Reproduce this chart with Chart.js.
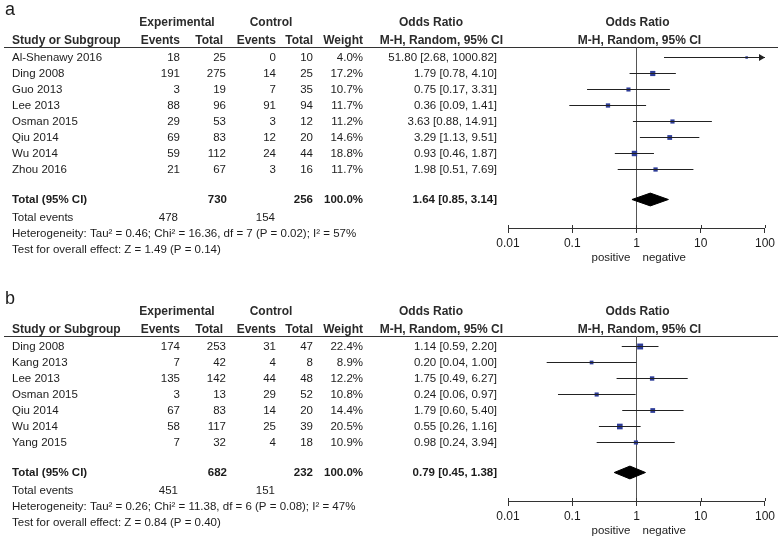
<!DOCTYPE html>
<html><head><meta charset="utf-8">
<script src="https://cdn.jsdelivr.net/npm/chart.js@4"></script>
<style>
html,body{margin:0;padding:0;background:#fff;width:778px;height:539px;overflow:hidden}
.panel{position:absolute;left:0;width:778px}
canvas{display:block}
</style></head><body>
<div class="panel" style="top:0;height:270px"><canvas id="ca" width="778" height="270"></canvas></div>
<div class="panel" style="top:289px;height:250px"><canvas id="cb" width="778" height="250"></canvas></div>
<script>
// ---------- shared axis ----------
const tickValues = [0.01, 0.1, 1, 10, 100];
const tickLabels = ["0.01", "0.1", "1", "10", "100"];

// ---------- panel a ----------
const studiesA   = ["Al-Shenawy 2016","Ding 2008","Guo 2013","Lee 2013","Osman 2015","Qiu 2014","Wu 2014","Zhou 2016"];
const expEventsA = [18, 191, 3, 88, 29, 69, 59, 21];
const expTotalA  = [25, 275, 19, 96, 53, 83, 112, 67];
const ctlEventsA = [0, 14, 7, 91, 3, 12, 24, 3];
const ctlTotalA  = [10, 25, 35, 94, 12, 20, 44, 16];
const weightA    = [4.0, 17.2, 10.7, 11.7, 11.2, 14.6, 18.8, 11.7];
const orA        = [51.80, 1.79, 0.75, 0.36, 3.63, 3.29, 0.93, 1.98];
const loA        = [2.68, 0.78, 0.17, 0.09, 0.88, 1.13, 0.46, 0.51];
const hiA        = [1000.82, 4.10, 3.31, 1.41, 14.91, 9.51, 1.87, 7.69];
const pooledA    = [1.64, 0.85, 3.14];
const totalsA    = [730, 256];
const totEventsA = [478, 154];
const hetA  = "Heterogeneity: Tau\u00b2 = 0.46; Chi\u00b2 = 16.36, df = 7 (P = 0.02); I\u00b2 = 57%";
const testA = "Test for overall effect: Z = 1.49 (P = 0.14)";

// ---------- panel b ----------
const studiesB   = ["Ding 2008","Kang 2013","Lee 2013","Osman 2015","Qiu 2014","Wu 2014","Yang 2015"];
const expEventsB = [174, 7, 135, 3, 67, 58, 7];
const expTotalB  = [253, 42, 142, 13, 83, 117, 32];
const ctlEventsB = [31, 4, 44, 29, 14, 25, 4];
const ctlTotalB  = [47, 8, 48, 52, 20, 39, 18];
const weightB    = [22.4, 8.9, 12.2, 10.8, 14.4, 20.5, 10.9];
const orB        = [1.14, 0.20, 1.75, 0.24, 1.79, 0.55, 0.98];
const loB        = [0.59, 0.04, 0.49, 0.06, 0.60, 0.26, 0.24];
const hiB        = [2.20, 1.00, 6.27, 0.97, 5.40, 1.16, 3.94];
const pooledB    = [0.79, 0.45, 1.38];
const totalsB    = [682, 232];
const totEventsB = [451, 151];
const hetB  = "Heterogeneity: Tau\u00b2 = 0.26; Chi\u00b2 = 11.38, df = 6 (P = 0.08); I\u00b2 = 47%";
const testB = "Test for overall effect: Z = 0.84 (P = 0.40)";

const FONT = '"Liberation Sans", Arial, Helvetica, sans-serif';
const TXT = '#1c1c1c';

function fmtCI(o, l, h) { return o.toFixed(2) + ' [' + l.toFixed(2) + ', ' + h.toFixed(2) + ']'; }

function makePanel(id, p) {
  const n = p.studies.length;
  const totalRow = n + 0.875;
  const datasets = [];
  p.studies.forEach((s, i) => {
    datasets.push({
      data: [{x: p.lo[i], y: i}, {x: p.hi[i], y: i}],
      borderColor: '#222', borderWidth: 1, pointRadius: 0, fill: false
    });
  });
  datasets.push({
    data: p.or.map((v, i) => ({x: v, y: i})),
    showLine: false, pointStyle: 'rect',
    pointRadius: p.weight.map(w => 1.25 * Math.sqrt(w) / Math.SQRT2),
    pointBackgroundColor: '#2d3c98', pointBorderWidth: 0, pointBorderColor: '#2d3c98'
  });
  const [est, plo, phi] = p.pooled;
  datasets.push({
    data: [{x: plo, y: totalRow}, {x: est, y: totalRow - 0.4}, {x: phi, y: totalRow},
           {x: est, y: totalRow + 0.4}, {x: plo, y: totalRow}],
    borderColor: '#000', backgroundColor: '#000', borderWidth: 1, pointRadius: 0,
    fill: 'shape', tension: 0
  });

  const plugin = {
    id: 'forest_' + id,
    beforeDatasetsDraw(chart) {
      const {ctx, chartArea: a, scales: {x}} = chart;
      ctx.save();
      ctx.strokeStyle = '#333'; ctx.lineWidth = 1;
      ctx.beginPath(); ctx.moveTo(4, Math.round(a.top) + 0.5); ctx.lineTo(778, Math.round(a.top) + 0.5); ctx.stroke();
      const x1 = Math.round(x.getPixelForValue(1)) + 0.5;
      ctx.strokeStyle = '#555';
      ctx.beginPath(); ctx.moveTo(x1, a.top); ctx.lineTo(x1, a.bottom); ctx.stroke();
      ctx.restore();
    },
    afterDraw(chart) {
      const {ctx, chartArea: a, scales: {x, y}} = chart;
      const Y = v => y.getPixelForValue(v);
      ctx.save();
      // upward tick stubs
      ctx.strokeStyle = '#333'; ctx.lineWidth = 1;
      tickValues.forEach(v => {
        const xx = Math.round(x.getPixelForValue(v)) + 0.5;
        ctx.beginPath(); ctx.moveTo(xx, a.bottom - 3); ctx.lineTo(xx, a.bottom); ctx.stroke();
      });
      // arrowheads for CIs beyond axis
      ctx.fillStyle = '#222';
      p.hi.forEach((h, i) => {
        if (h > x.max) {
          const tip = a.right, yy = Y(i);
          ctx.beginPath(); ctx.moveTo(tip, yy); ctx.lineTo(tip - 6, yy - 3.5); ctx.lineTo(tip - 6, yy + 3.5); ctx.closePath(); ctx.fill();
        }
      });
      ctx.textBaseline = 'middle';
      // panel letter
      ctx.fillStyle = TXT; ctx.textAlign = 'left';
      ctx.font = '18px ' + FONT;
      ctx.fillText(p.letter, 5, 10);
      // headers
      const h1 = Y(-2.2), h2 = Y(-1.06);
      ctx.font = 'bold 12px ' + FONT; ctx.fillStyle = '#2b2b2b';
      ctx.textAlign = 'center';
      ctx.fillText('Experimental', 177, h1);
      ctx.fillText('Control', 271, h1);
      ctx.fillText('Odds Ratio', 431, h1);
      const xc = x.getPixelForValue(1) + 1;
      ctx.fillText('Odds Ratio', xc, h1);
      ctx.fillText('M-H, Random, 95% CI', xc + 2, h2);
      ctx.textAlign = 'left';
      ctx.fillText('Study or Subgroup', 12, h2);
      ctx.textAlign = 'right';
      ctx.fillText('Events', 180, h2);
      ctx.fillText('Total', 223, h2);
      ctx.fillText('Events', 276, h2);
      ctx.fillText('Total', 313, h2);
      ctx.fillText('Weight', 363, h2);
      ctx.fillText('M-H, Random, 95% CI', 503, h2);
      // study rows
      ctx.font = '11.5px ' + FONT; ctx.fillStyle = TXT;
      p.studies.forEach((s, i) => {
        const yy = Y(i);
        ctx.textAlign = 'left'; ctx.fillText(s, 12, yy);
        ctx.textAlign = 'right';
        ctx.fillText(String(p.expEv[i]), 180, yy);
        ctx.fillText(String(p.expTot[i]), 226, yy);
        ctx.fillText(String(p.ctlEv[i]), 276, yy);
        ctx.fillText(String(p.ctlTot[i]), 313, yy);
        ctx.fillText(p.weight[i].toFixed(1) + '%', 363, yy);
        ctx.fillText(fmtCI(p.or[i], p.lo[i], p.hi[i]), 497, yy);
      });
      // total row
      const ty = Y(totalRow);
      ctx.font = 'bold 11.5px ' + FONT;
      ctx.textAlign = 'left'; ctx.fillText('Total (95% CI)', 12, ty);
      ctx.textAlign = 'right';
      ctx.fillText(String(p.totals[0]), 227, ty);
      ctx.fillText(String(p.totals[1]), 313, ty);
      ctx.fillText('100.0%', 363, ty);
      ctx.fillText(fmtCI(est, plo, phi), 497, ty);
      // footer
      ctx.font = '11.5px ' + FONT;
      const te = Y(n + 2);
      ctx.textAlign = 'left'; ctx.fillText('Total events', 12, te);
      ctx.textAlign = 'right';
      ctx.fillText(String(p.totEv[0]), 178, te);
      ctx.fillText(String(p.totEv[1]), 275, te);
      ctx.textAlign = 'left';
      ctx.fillText(p.het, 12, Y(n + 3));
      ctx.fillText(p.test, 12, Y(n + 4));
      // favours labels
      const xp = x.getPixelForValue(1);
      ctx.font = '11.5px ' + FONT;
      ctx.textAlign = 'right'; ctx.fillText('positive', xp - 6, a.bottom + 30);
      ctx.textAlign = 'left'; ctx.fillText('negative', xp + 6, a.bottom + 30);
      ctx.restore();
    }
  };

  const H = p.height;
  const rows = (p.bottom - 47) / 16;
  const y0 = -0.625 - 0.5 / 16;
  return new Chart(document.getElementById(id), {
    type: 'line',
    data: {datasets},
    plugins: [plugin],
    options: {
      responsive: false, animation: false, devicePixelRatio: 1,
      layout: {padding: {left: 508, right: 12, top: 47, bottom: H - p.bottom - 30}},
      plugins: {legend: {display: false}, tooltip: {enabled: false}},
      elements: {line: {tension: 0}},
      scales: {
        x: {
          type: 'logarithmic', min: 0.01, max: 100, position: 'bottom',
          afterBuildTicks: s => { s.ticks = tickValues.map(v => ({value: v})); },
          afterFit: s => { s.height = 30; },
          ticks: {
            autoSkip: false, maxRotation: 0, padding: 3, color: TXT,
            font: {family: FONT, size: 12},
            callback: (v, i) => tickLabels[i]
          },
          grid: {drawOnChartArea: false, drawTicks: true, tickLength: 5, color: '#333', lineWidth: 1},
          border: {display: true, color: '#333', width: 1}
        },
        y: {
          type: 'linear', reverse: true, display: false,
          min: y0, max: y0 + rows
        }
      }
    }
  });
}

makePanel('ca', {
  letter: 'a', studies: studiesA, expEv: expEventsA, expTot: expTotalA, ctlEv: ctlEventsA, ctlTot: ctlTotalA,
  weight: weightA, or: orA, lo: loA, hi: hiA, pooled: pooledA, totals: totalsA, totEv: totEventsA,
  het: hetA, test: testA, height: 270, bottom: 228
});
makePanel('cb', {
  letter: 'b', studies: studiesB, expEv: expEventsB, expTot: expTotalB, ctlEv: ctlEventsB, ctlTot: ctlTotalB,
  weight: weightB, or: orB, lo: loB, hi: hiB, pooled: pooledB, totals: totalsB, totEv: totEventsB,
  het: hetB, test: testB, height: 250, bottom: 212
});
</script>
</body></html>
